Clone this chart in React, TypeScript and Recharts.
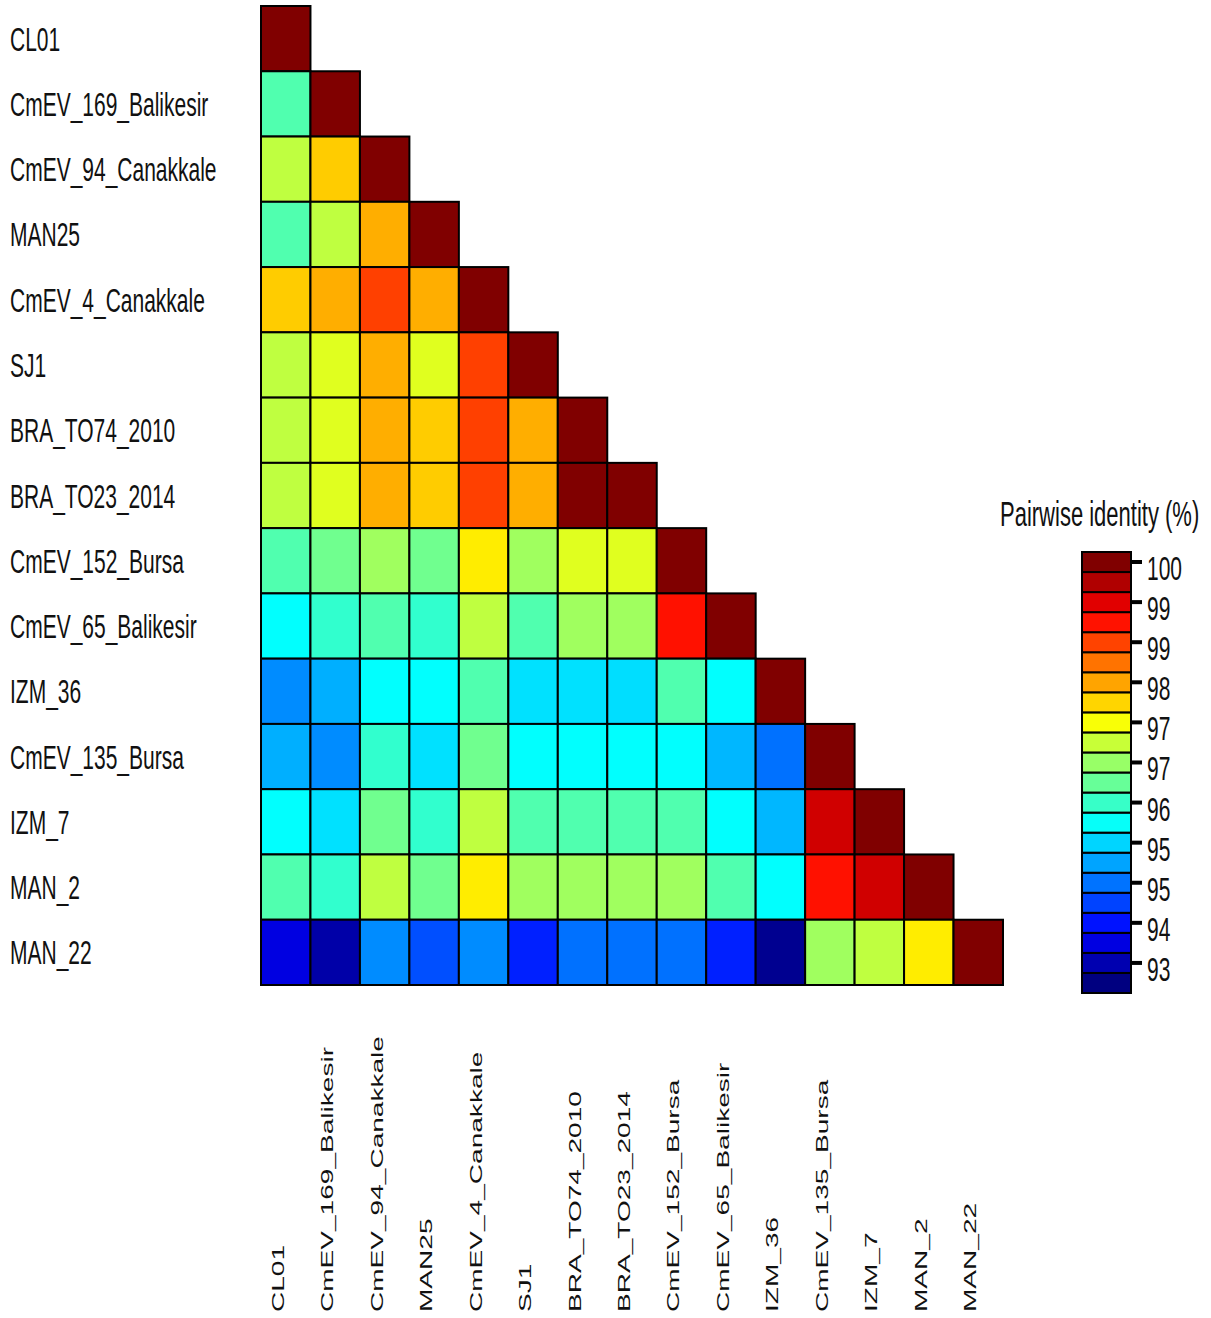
import { ScatterChart, Scatter, XAxis, YAxis } from 'recharts';

// isolates, in matrix order (rows top→bottom, columns left→right)
const NAMES = [
  'CL01',
  'CmEV_169_Balikesir',
  'CmEV_94_Canakkale',
  'MAN25',
  'CmEV_4_Canakkale',
  'SJ1',
  'BRA_TO74_2010',
  'BRA_TO23_2014',
  'CmEV_152_Bursa',
  'CmEV_65_Balikesir',
  'IZM_36',
  'CmEV_135_Bursa',
  'IZM_7',
  'MAN_2',
  'MAN_22',
];

// lower triangle of pairwise identity (%)
const IDENTITY: number[][] = [
  [100],
  [95.98, 100],
  [96.78, 97.61, 100],
  [95.98, 96.78, 97.83, 100],
  [97.61, 97.83, 98.62, 97.83, 100],
  [96.78, 97.02, 97.83, 97.02, 98.62, 100],
  [96.78, 97.02, 97.83, 97.61, 98.62, 97.83, 100],
  [96.78, 97.02, 97.83, 97.61, 98.62, 97.83, 100, 100],
  [95.98, 96.21, 96.56, 96.21, 97.37, 96.56, 97.02, 97.02, 100],
  [95.41, 95.76, 95.98, 95.76, 96.78, 95.98, 96.56, 96.56, 98.96, 100],
  [94.58, 94.83, 95.41, 95.41, 95.98, 95.19, 95.19, 95.17, 95.98, 95.41, 100],
  [94.83, 94.58, 95.76, 95.19, 96.21, 95.41, 95.41, 95.41, 95.41, 94.89, 94.38, 100],
  [95.41, 95.19, 96.21, 95.76, 96.78, 95.98, 95.98, 95.98, 95.98, 95.41, 94.89, 99.42, 100],
  [95.98, 95.76, 96.78, 96.21, 97.37, 96.56, 96.56, 96.56, 96.56, 95.98, 95.41, 98.96, 99.42, 100],
  [93.35, 92.94, 94.58, 94.14, 94.58, 93.8, 94.38, 94.38, 94.38, 93.8, 92.77, 96.56, 96.78, 97.37, 100],
];

const V_MIN = 92.65;
const V_MAX = 100;
const LEGEND_LEVELS = 22;
const LEGEND_TICK_LABELS = ['100', '99', '99', '98', '97', '97', '96', '95', '95', '94', '93'];

const FONT = '"Liberation Sans", Arial, sans-serif';
const TEXT_STRETCH = 1.6;

// layout
const W = 1211;
const H = 1318;
const PLOT_LEFT = 261;
const PLOT_TOP = 6;
const PLOT_W = 742;
const PLOT_H = 979;
const N = NAMES.length;
const CELL_W = PLOT_W / N;
const CELL_H = PLOT_H / N;

const BAR_W = 49;
const BAR_H = 441;

function jet(t: number) {
  const c = (v: number) => Math.round(255 * Math.max(0, Math.min(1, v)));
  const r = c(1.5 - Math.abs(4 * t - 3));
  const g = c(1.5 - Math.abs(4 * t - 2));
  const b = c(1.5 - Math.abs(4 * t - 1));
  return `rgb(${r},${g},${b})`;
}

const colorFor = (v: number) => jet((v - V_MIN) / (V_MAX - V_MIN));

const cells = IDENTITY.flatMap((row, i) =>
  row.map((v, j) => ({ x: j + 0.5, y: i + 0.5, v }))
);

const legendCells = Array.from({ length: LEGEND_LEVELS }, (_, k) => ({
  x: 0.5,
  y: k + 0.5,
  v: V_MIN + ((V_MAX - V_MIN) * k) / (LEGEND_LEVELS - 1),
}));

const centers = NAMES.map((_, i) => i + 0.5);
const legendTicks = LEGEND_TICK_LABELS.map((_, i) => LEGEND_LEVELS - 0.5 - 2 * i);

const makeCell = (w: number, h: number) => (props: any) => {
  const { cx, cy, payload } = props;
  return (
    <rect
      x={cx - w / 2}
      y={cy - h / 2}
      width={w}
      height={h}
      fill={colorFor(payload.v)}
      stroke="#000"
      strokeWidth={2}
    />
  );
};

const RowTick = (props: any) => {
  const { y, payload } = props;
  return (
    <text
      transform={`translate(10, ${y + 12}) scale(1, ${TEXT_STRETCH})`}
      fontSize={21}
      fontFamily={FONT}
      fill="#111"
    >
      {NAMES[Math.floor(payload.value)]}
    </text>
  );
};

const ColTick = (props: any) => {
  const { x, payload } = props;
  return (
    <text
      transform={`translate(${x - 2}, 1312) scale(1, 1.65) rotate(-90)`}
      fontSize={17}
      fontFamily={FONT}
      fill="#111"
    >
      {NAMES[Math.floor(payload.value)]}
    </text>
  );
};

const LegendTick = (props: any) => {
  const { x, y, index } = props;
  return (
    <g>
      <line x1={x - 9} x2={x + 3} y1={y} y2={y} stroke="#000" strokeWidth={4} />
      <text
        transform={`translate(${x + 8}, ${y + 18}) scale(1, ${TEXT_STRETCH})`}
        fontSize={21}
        fontFamily={FONT}
        fill="#111"
      >
        {LEGEND_TICK_LABELS[index]}
      </text>
    </g>
  );
};

export default function App() {
  return (
    <div style={{ position: 'absolute', left: 0, top: 0, width: W, height: H, background: '#fff' }}>
      <ScatterChart
        width={W}
        height={H}
        margin={{ top: PLOT_TOP, right: W - PLOT_LEFT - PLOT_W, bottom: 0, left: 0 }}
      >
        <XAxis
          type="number"
          dataKey="x"
          domain={[0, N]}
          ticks={centers}
          interval={0}
          height={H - PLOT_TOP - PLOT_H}
          tick={<ColTick />}
          tickLine={false}
          axisLine={false}
        />
        <YAxis
          type="number"
          dataKey="y"
          domain={[0, N]}
          reversed
          ticks={centers}
          interval={0}
          width={PLOT_LEFT}
          tick={<RowTick />}
          tickLine={false}
          axisLine={false}
        />
        <Scatter data={cells} shape={makeCell(CELL_W, CELL_H)} isAnimationActive={false} />
      </ScatterChart>

      <div style={{ position: 'absolute', left: 1060, top: 540 }}>
        <ScatterChart
          width={150}
          height={460}
          margin={{ top: 12, right: 0, bottom: 460 - 12 - BAR_H, left: 22 }}
        >
          <XAxis type="number" dataKey="x" domain={[0, 1]} hide />
          <YAxis
            type="number"
            dataKey="y"
            orientation="right"
            domain={[0, LEGEND_LEVELS]}
            ticks={legendTicks}
            interval={0}
            width={150 - 22 - BAR_W}
            tick={<LegendTick />}
            tickLine={false}
            axisLine={false}
          />
          <Scatter
            data={legendCells}
            shape={makeCell(BAR_W, BAR_H / LEGEND_LEVELS)}
            isAnimationActive={false}
          />
        </ScatterChart>
      </div>

      <svg
        width={W}
        height={H}
        style={{ position: 'absolute', left: 0, top: 0, pointerEvents: 'none' }}
      >
        <text
          transform={`translate(1000, 526) scale(1, ${TEXT_STRETCH})`}
          fontSize={22}
          fontFamily={FONT}
          fill="#111"
        >
          Pairwise identity (%)
        </text>
      </svg>
    </div>
  );
}
